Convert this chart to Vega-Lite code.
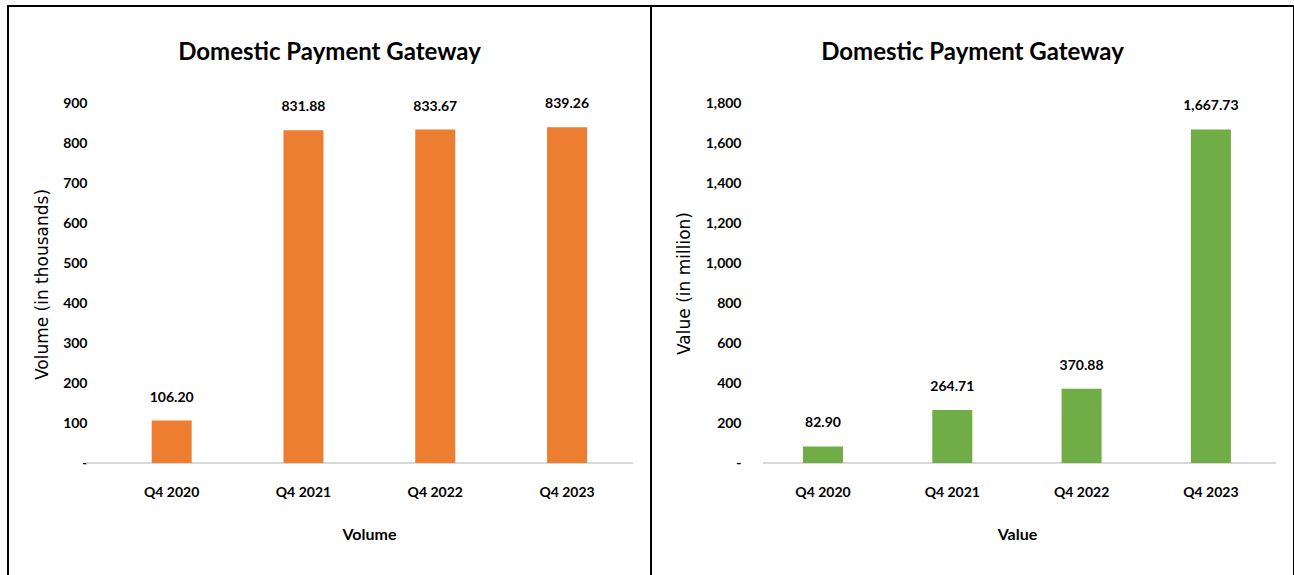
{
  "$schema": "https://vega.github.io/schema/vega-lite/v6.json",
  "padding": {"left": 7, "top": 5, "right": 0, "bottom": 0},
  "background": "white",
  "spacing": 0,
  "bounds": "flush",
  "config": {
    "view": {"stroke": "#000000", "strokeWidth": 2},
    "font": "Lato",
    "axis": {"grid": false, "ticks": false, "domain": false, "labelColor": "#000000", "titleColor": "#000000", "labelFont": "Lato", "labelFontWeight": "bold", "labelFontSize": 14}
  },
  "datasets": {
    "vol": [
      {"quarter": "Q4 2020", "volume": 106.20},
      {"quarter": "Q4 2021", "volume": 831.88},
      {"quarter": "Q4 2022", "volume": 833.67},
      {"quarter": "Q4 2023", "volume": 839.26}
    ],
    "val": [
      {"quarter": "Q4 2020", "value": 82.90},
      {"quarter": "Q4 2021", "value": 264.71},
      {"quarter": "Q4 2022", "value": 370.88},
      {"quarter": "Q4 2023", "value": 1667.73}
    ]
  },
  "hconcat": [
    {
      "width": 643,
      "height": 575,
      "data": {"name": "vol"},
      "title": {"text": "Domestic Payment Gateway", "font": "Lato", "fontSize": 24, "fontWeight": "bold", "color": "#000000", "offset": -78, "baseline": "alphabetic", "frame": "group", "anchor": "middle"},
      "encoding": {
        "x": {
          "field": "quarter", "type": "nominal", "sort": null,
          "scale": {"domain": ["Q4 2020", "Q4 2021", "Q4 2022", "Q4 2023"], "paddingInner": 0.6965, "paddingOuter": 0.7876, "align": 0.692},
          "axis": {"orient": "bottom", "offset": -118, "labelAngle": 0, "labelPadding": 22, "labelFontSize": 14, "title": "Volume", "titleFont": "Lato", "titleFontSize": 16, "titleFontWeight": "bold", "titleX": 361, "titleY": 71, "titleBaseline": "middle", "titleAnchor": "start", "titleAlign": "center"}
        }
      },
      "layer": [
        {
          "mark": {"type": "rule", "color": "#d9d9d9", "strokeWidth": 1.5},
          "encoding": {
            "x": {"datum": "Q4 2020", "type": "nominal", "bandPosition": -1.625},
            "x2": {"datum": "Q4 2023", "bandPosition": 2.15},
            "y": {"datum": 0, "type": "quantitative"}
          }
        },
        {
          "mark": {"type": "bar", "color": "#ED7D31"},
          "encoding": {
            "y": {
              "field": "volume", "type": "quantitative",
              "scale": {"domain": [-295, 1142.5], "nice": false, "zero": false},
              "axis": {"orient": "left", "offset": -79, "values": [0, 100, 200, 300, 400, 500, 600, 700, 800, 900], "labelExpr": "datum.value == 0 ? '-' : format(datum.value, ',')", "labelPadding": 0, "title": "Volume  (in thousands)", "titleFont": "DejaVu Sans", "titleFontSize": 17, "titleFontWeight": "normal", "titleX": -45, "titleY": 278, "titleAngle": -90, "titleBaseline": "middle", "titleAlign": "center", "titleAnchor": "start"}
            }
          }
        },
        {
          "mark": {"type": "text", "font": "Lato", "fontWeight": "bold", "fontSize": 14, "color": "#000000", "baseline": "alphabetic", "align": "center", "dy": -19},
          "encoding": {
            "y": {"field": "volume", "type": "quantitative"},
            "text": {"field": "volume", "type": "quantitative", "format": ",.2f"}
          }
        }
      ]
    },
    {
      "width": 643,
      "height": 575,
      "data": {"name": "val"},
      "title": {"text": "Domestic Payment Gateway", "font": "Lato", "fontSize": 24, "fontWeight": "bold", "color": "#000000", "offset": -78, "baseline": "alphabetic", "frame": "group", "anchor": "middle"},
      "encoding": {
        "x": {
          "field": "quarter", "type": "nominal", "sort": null,
          "scale": {"domain": ["Q4 2020", "Q4 2021", "Q4 2022", "Q4 2023"], "paddingInner": 0.6906, "paddingOuter": 0.8318, "align": 0.7066},
          "axis": {"orient": "bottom", "offset": -118, "labelAngle": 0, "labelPadding": 22, "labelFontSize": 14, "title": "Value", "titleFont": "Lato", "titleFontSize": 16, "titleFontWeight": "bold", "titleX": 366, "titleY": 71, "titleBaseline": "middle", "titleAnchor": "start", "titleAlign": "center"}
        }
      },
      "layer": [
        {
          "mark": {"type": "rule", "color": "#d9d9d9", "strokeWidth": 1.5},
          "encoding": {
            "x": {"datum": "Q4 2020", "type": "nominal", "bandPosition": -1.0},
            "x2": {"datum": "Q4 2023", "bandPosition": 2.125},
            "y": {"datum": 0, "type": "quantitative"}
          }
        },
        {
          "mark": {"type": "bar", "color": "#70AD47"},
          "encoding": {
            "y": {
              "field": "value", "type": "quantitative",
              "scale": {"domain": [-590, 2285], "nice": false, "zero": false},
              "axis": {"orient": "left", "offset": -90, "values": [0, 200, 400, 600, 800, 1000, 1200, 1400, 1600, 1800], "labelExpr": "datum.value == 0 ? '-' : format(datum.value, ',')", "labelPadding": 0, "title": "Value  (in million)", "titleFont": "DejaVu Sans", "titleFontSize": 17, "titleFontWeight": "normal", "titleX": -57, "titleY": 277, "titleAngle": -90, "titleBaseline": "middle", "titleAlign": "center", "titleAnchor": "start"}
            }
          }
        },
        {
          "mark": {"type": "text", "font": "Lato", "fontWeight": "bold", "fontSize": 14, "color": "#000000", "baseline": "alphabetic", "align": "center", "dy": -19},
          "encoding": {
            "y": {"field": "value", "type": "quantitative"},
            "text": {"field": "value", "type": "quantitative", "format": ",.2f"}
          }
        }
      ]
    }
  ]
}
